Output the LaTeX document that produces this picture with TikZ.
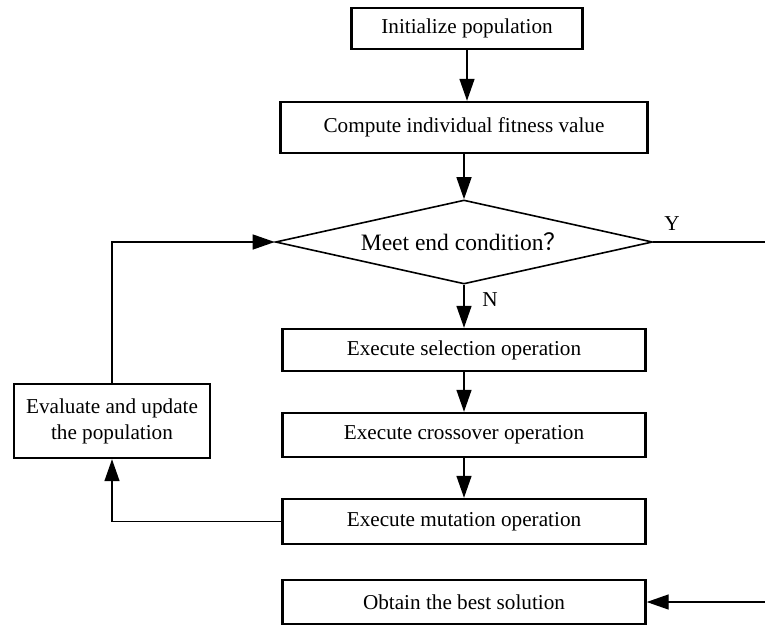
\documentclass[tikz,border=0pt]{standalone}
\usepackage{fontspec}
\setmainfont{Liberation Serif}
\newfontfamily\cjk{Noto Sans CJK SC}
\usetikzlibrary{arrows.meta,shapes.geometric}

\begin{document}
\begin{tikzpicture}[x=1pt,y=-1pt,
    box/.style={draw, line width=2.4pt, inner sep=0pt, align=center,
      font=\fontsize{21.2}{26}\selectfont},
    opbox/.style={box, minimum width=363pt},
    arr/.style={-{Triangle[length=22pt,width=15pt]}, line width=1.4pt},
    lbl/.style={inner sep=0pt, font=\fontsize{21.2}{26}\selectfont}]
  \useasboundingbox (0,0) rectangle (765,625);

  % Main column
  \node[box, minimum width=231pt, minimum height=41pt] (init) at (467,28.5) {Initialize population};
  \node[box, minimum width=367pt, minimum height=51pt] (comp) at (464,127.5) {Compute individual fitness value};
  \node[draw, diamond, aspect=4.5, line width=1.6pt, inner sep=0pt,
    minimum width=377pt, minimum height=84pt,
    font=\fontsize{23.5}{28}\selectfont] (cond) at (464,242) {Meet end condition{\cjk ？}};
  \node[opbox, minimum height=42pt] (sel) at (464,350) {Execute selection operation};
  \node[opbox, minimum height=44pt] (cross) at (464,435) {Execute crossover operation};
  \node[opbox, minimum height=45pt] (mut) at (464,521.5) {Execute mutation operation};
  \node[opbox, minimum height=44pt] (best) at (464,602) {Obtain the best solution};

  % Feedback box
  \node[box, minimum width=196pt, minimum height=74pt] (eval) at (112,421) {Evaluate and update\\the population};

  % Labels
  \node[lbl] (ylab) at (672,224) {Y};
  \node[lbl] (nlab) at (490,300) {N};

  \coordinate (yend) at (765,242);
  \coordinate (bestin) at (765,602);

  % Connectors
  \draw[arr] (init.south) -- (init.south |- comp.north);
  \draw[arr] (comp.south) -- (cond.north);
  \draw[arr] (cond.south) -- (sel.north);
  \draw[arr] (sel) -- (cross);
  \draw[arr] (cross) -- (mut);
  \draw[arr] (mut.west) -| (eval.south);
  \draw[arr] (eval.north) |- (cond.west);
  \draw[line width=1.4pt] (cond.east) -- (yend);
  \draw[arr] (bestin) -- (best.east);
\end{tikzpicture}
\end{document}
